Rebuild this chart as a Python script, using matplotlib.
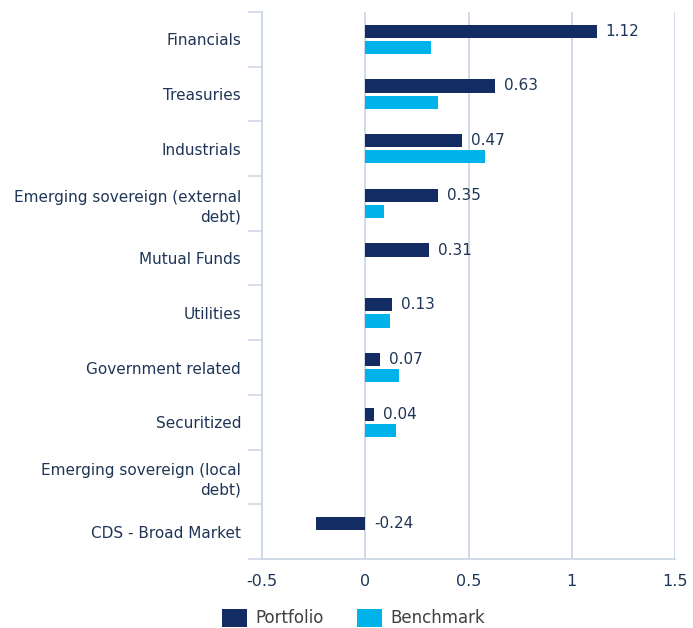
import numpy as np
import matplotlib
matplotlib.use("Agg")
import matplotlib.pyplot as plt
from matplotlib.patches import Patch

categories = ["Financials", "Treasuries", "Industrials", "Emerging sovereign (external\ndebt)",
              "Mutual Funds", "Utilities", "Government related", "Securitized",
              "Emerging sovereign (local\ndebt)", "CDS - Broad Market"]
portfolio = [1.12, 0.63, 0.47, 0.35, 0.31, 0.13, 0.07, 0.04, np.nan, -0.24]
benchmark = [0.32, 0.35, 0.58, 0.09, np.nan, 0.12, 0.165, 0.15, np.nan, np.nan]
x_ticks = [-0.5, 0, 0.5, 1, 1.5]
x_labels = ["-0.5", "0", "0.5", "1", "1.5"]

navy = "#132c64"
cyan = "#00b4eb"
grid_col = "#cdd8e6"
text_col = "#1f3557"

plt.rcParams['font.family'] = ['DejaVu Sans']

fig = plt.figure(figsize=(6.93, 6.28), dpi=100)
ax = fig.add_axes([262 / 693, 1 - 559 / 628, 413 / 693, 547 / 628])

y = np.arange(len(categories))
off = 0.148
h = 0.24
ax.barh(y - off, portfolio, height=h, color=navy, zorder=3)
ax.barh(y + off, benchmark, height=h, color=cyan, zorder=3)

for yi, v in zip(y, portfolio):
    if np.isnan(v):
        continue
    ax.annotate(f"{v:.2f}", xy=(max(v, 0), yi - off), xytext=(6.5, 0),
                textcoords="offset points", va="center", ha="left",
                fontsize=11, color=text_col)

ax.set_xlim(-0.5, 1.5)
ax.set_ylim(len(categories) - 0.5, -0.5)
ax.set_xticks(x_ticks)
ax.set_xticklabels(x_labels, fontsize=11.5, color=text_col)
ax.set_yticks(y)
ax.set_yticklabels(categories, fontsize=11, color=text_col, linespacing=1.35)
ax.set_yticks(np.arange(len(categories) + 1) - 0.5, minor=True)
ax.tick_params(axis="y", which="major", length=0, pad=15)
ax.tick_params(axis="y", which="minor", length=10, width=1.2, color=grid_col)
ax.tick_params(axis="x", length=0, pad=11)

ax.grid(axis="x", color=grid_col, linewidth=1.3, zorder=0)
for s in ["top", "right"]:
    ax.spines[s].set_visible(False)
for s in ["left", "bottom"]:
    ax.spines[s].set_color(grid_col)
    ax.spines[s].set_linewidth(1.3)

handles = [Patch(facecolor=navy, label="Portfolio"), Patch(facecolor=cyan, label="Benchmark")]
fig.legend(handles=handles, loc="center", bbox_to_anchor=(0.51, 0.016), ncol=2,
           frameon=False, fontsize=12, labelcolor="#404040",
           handlelength=1.5, handleheight=1.3, handletextpad=0.5, columnspacing=2.0)

fig.savefig("out.png", dpi=100)
